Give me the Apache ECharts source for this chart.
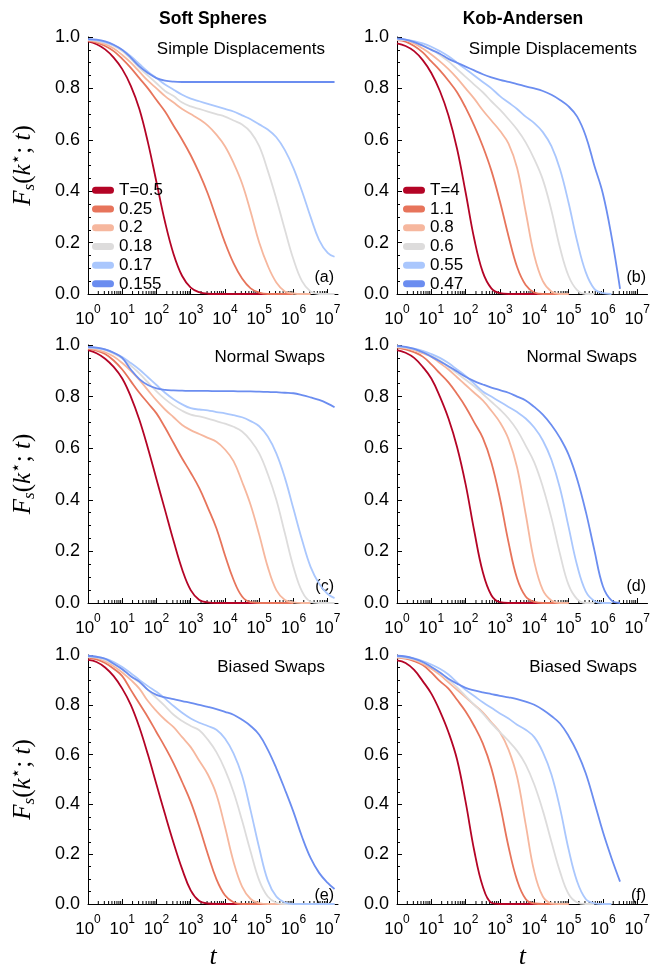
<!DOCTYPE html>
<html>
<head>
<meta charset="utf-8">
<script src="https://cdn.jsdelivr.net/npm/echarts@6/dist/echarts.min.js"></script>
<style>
  html, body { margin: 0; background: #fff; }
  #chart { width: 653px; height: 971px; }
</style>
</head>
<body>
<div id="chart"></div>
<script>
// log10(t) sample points shared by every curve
const LOG_T = [0, 0.25, 0.5, 0.75, 1, 1.25, 1.5, 1.75, 2, 2.25, 2.5, 2.75, 3, 3.25, 3.5, 3.75,
  4, 4.25, 4.5, 4.75, 5, 5.25, 5.5, 5.75, 6, 6.25, 6.5, 6.75, 7, 7.2];

const SS_TEMPS = ["T=0.5", "0.25", "0.2", "0.18", "0.17", "0.155"];
const KA_TEMPS = ["T=4", "1.1", "0.8", "0.6", "0.55", "0.47"];
const COLORS = ["#b40426", "#e7745b", "#f6b79e", "#dddcdc", "#aac7fd", "#6b8df0"];
const X_TICKS = [0, 1, 2, 3, 4, 5, 6, 7];

// F_s(k*, t), one array per temperature (hot -> cold); a curve stops where its array ends
const SS_SIMPLE = [
  [.983, .972, .952, .92, .875, .81, .72, .59, .435, .28, .155, .07, .025, .007, .001, 0, 0, 0, 0, 0, 0, 0, 0],
  [.985, .978, .965, .945, .915, .88, .84, .80, .755, .71, .655, .60, .54, .47, .39, .295, .20, .12, .06, .022, .005, 0, 0, 0, 0],
  [.988, .982, .972, .955, .93, .90, .865, .83, .80, .77, .745, .72, .70, .68, .655, .62, .575, .51, .43, .32, .20, .11, .045, .01, .002, 0, 0],
  [.99, .986, .978, .965, .945, .915, .88, .85, .82, .79, .77, .745, .73, .72, .71, .70, .69, .675, .66, .63, .575, .48, .37, .25, .135, .05, .01, 0, 0, 0],
  [.99, .987, .98, .968, .95, .925, .895, .865, .84, .815, .795, .775, .76, .75, .74, .73, .72, .71, .695, .68, .66, .64, .61, .56, .49, .40, .30, .21, .16, .145],
  [.992, .99, .983, .97, .95, .92, .886, .86, .84, .83, .826, .825, .825, .825, .825, .825, .825, .825, .825, .825, .825, .825, .825, .825, .825, .825, .825, .825, .825, .825]
];
const KA_SIMPLE = [
  [.975, .965, .945, .91, .86, .79, .695, .565, .395, .215, .085, .022, .003, 0, 0, 0, 0, 0, 0, 0, 0],
  [.988, .982, .965, .94, .905, .87, .83, .785, .725, .655, .575, .48, .36, .225, .105, .035, .006, 0, 0, 0, 0],
  [.99, .988, .975, .955, .932, .905, .875, .84, .80, .76, .715, .675, .635, .585, .49, .32, .15, .05, .01, 0, 0],
  [.99, .988, .98, .968, .952, .93, .905, .875, .845, .815, .785, .75, .717, .68, .64, .59, .525, .445, .325, .18, .07, .015, 0, 0],
  [.993, .99, .984, .975, .962, .945, .925, .90, .875, .85, .825, .80, .77, .745, .72, .69, .665, .63, .575, .485, .355, .205, .085, .02, .003, 0],
  [.995, .99, .98, .966, .95, .935, .915, .90, .885, .87, .855, .843, .833, .825, .817, .808, .80, .79, .775, .755, .73, .69, .615, .50, .39, .225, .02]
];
const SS_NORMAL = [
  [.98, .968, .947, .915, .87, .80, .71, .60, .48, .36, .24, .13, .05, .012, .002, 0, 0, 0, 0, 0, 0, 0, 0],
  [.985, .978, .965, .94, .905, .86, .815, .775, .735, .68, .62, .56, .505, .445, .37, .29, .185, .09, .025, .003, 0, 0, 0, 0, 0],
  [.988, .982, .972, .955, .93, .90, .865, .825, .785, .75, .72, .69, .67, .655, .64, .625, .595, .55, .47, .38, .265, .14, .05, .012, .002, 0, 0],
  [.99, .987, .98, .966, .948, .92, .89, .855, .82, .79, .765, .745, .73, .723, .715, .705, .695, .683, .665, .63, .58, .50, .40, .27, .14, .045, .005, 0, 0, 0],
  [.99, .988, .982, .97, .953, .93, .905, .875, .845, .815, .79, .77, .755, .75, .747, .74, .735, .728, .72, .705, .685, .645, .58, .485, .365, .245, .14, .075, .035, .019],
  [.993, .99, .983, .97, .95, .905, .868, .845, .832, .826, .824, .823, .822, .822, .822, .821, .821, .821, .82, .82, .819, .818, .817, .815, .813, .806, .797, .787, .773, .759]
];
const KA_NORMAL = [
  [.98, .97, .95, .915, .87, .80, .715, .605, .46, .28, .12, .03, .003, 0, 0, 0, 0, 0, 0, 0, 0],
  [.99, .983, .972, .955, .925, .89, .855, .81, .76, .70, .64, .545, .405, .235, .095, .025, .004, 0, 0, 0, 0],
  [.992, .988, .98, .968, .955, .93, .905, .875, .845, .815, .785, .745, .70, .635, .525, .345, .16, .05, .01, 0, 0],
  [.993, .99, .983, .972, .958, .94, .915, .89, .865, .84, .81, .78, .75, .715, .67, .61, .545, .45, .33, .19, .07, .015, 0, 0],
  [.995, .992, .986, .977, .965, .95, .93, .905, .88, .85, .82, .80, .78, .76, .74, .715, .68, .63, .555, .445, .295, .145, .045, .008, 0, 0],
  [.997, .993, .985, .972, .955, .937, .918, .897, .877, .86, .847, .835, .825, .815, .80, .785, .76, .73, .69, .64, .575, .48, .355, .206, .065, .01, 0]
];
const SS_BIASED = [
  [.98, .972, .95, .915, .865, .80, .71, .60, .48, .36, .245, .14, .055, .012, .002, 0, 0, 0, 0, 0, 0, 0, 0],
  [.99, .982, .968, .945, .915, .86, .805, .75, .69, .63, .565, .49, .41, .31, .20, .10, .035, .007, 0, 0, 0, 0, 0, 0, 0],
  [.993, .988, .975, .955, .93, .90, .865, .815, .775, .74, .71, .67, .63, .575, .52, .44, .31, .17, .07, .02, .004, 0, 0, 0, 0, 0, 0],
  [.993, .99, .98, .963, .942, .915, .89, .86, .827, .795, .76, .735, .715, .698, .66, .61, .54, .45, .335, .21, .095, .03, .005, 0, 0, 0, 0, 0, 0, 0],
  [.995, .992, .985, .972, .952, .927, .90, .875, .852, .825, .795, .768, .745, .728, .715, .70, .665, .605, .515, .375, .225, .095, .03, .006, 0, 0, 0, 0, 0, 0],
  [.997, .993, .985, .965, .943, .915, .893, .86, .84, .83, .823, .815, .808, .80, .792, .783, .772, .76, .74, .715, .68, .62, .545, .46, .37, .27, .185, .125, .085, .06]
];
const KA_BIASED = [
  [.978, .968, .94, .895, .845, .775, .69, .58, .41, .215, .07, .005, 0, 0, 0, 0, 0, 0, 0, 0, 0],
  [.99, .985, .975, .96, .93, .895, .865, .82, .773, .715, .645, .545, .40, .23, .095, .02, .002, 0, 0, 0, 0],
  [.99, .988, .98, .965, .945, .92, .89, .86, .83, .80, .77, .73, .69, .62, .51, .32, .13, .03, .003, 0, 0],
  [.993, .99, .983, .97, .953, .93, .90, .87, .835, .80, .765, .725, .69, .655, .615, .56, .48, .375, .25, .13, .04, .006, 0, 0],
  [.995, .992, .986, .976, .962, .945, .922, .89, .86, .835, .81, .788, .765, .745, .72, .70, .67, .61, .52, .385, .22, .09, .02, .003, 0, 0],
  [.997, .994, .985, .972, .952, .93, .905, .885, .868, .858, .85, .843, .836, .83, .823, .813, .80, .78, .755, .725, .675, .61, .525, .41, .29, .185, .09]
];

const PANELS = [
  { curves: SS_SIMPLE, names: SS_TEMPS, label: "Simple Displacements", tag: "(a)" },
  { curves: KA_SIMPLE, names: KA_TEMPS, label: "Simple Displacements", tag: "(b)" },
  { curves: SS_NORMAL, names: SS_TEMPS, label: "Normal Swaps", tag: "(c)" },
  { curves: KA_NORMAL, names: KA_TEMPS, label: "Normal Swaps", tag: "(d)" },
  { curves: SS_BIASED, names: SS_TEMPS, label: "Biased Swaps", tag: "(e)" },
  { curves: KA_BIASED, names: KA_TEMPS, label: "Biased Swaps", tag: "(f)" }
];

// layout (pixels)
const COL_LEFT = [88, 397];
const COL_WIDTH = [250, 253];
const ROW_TOP = [37, 345, 655];
const ROW_HEIGHT = [257, 258, 257];
const X_MAX = 2e7;

const SANS = '"Liberation Sans", Arial, sans-serif';
const SERIF = '"Liberation Serif", "DejaVu Serif", serif';

// minor log ticks 2..9 x 10^n
const MINOR_T = [];
for (const d of X_TICKS) for (let m = 2; m <= 9; m++) if (m * 10 ** d < X_MAX) MINOR_T.push(m * 10 ** d);

const chart = echarts.init(document.getElementById("chart"));

const grids = [], xAxes = [], yAxes = [], series = [], graphics = [];

PANELS.forEach((p, i) => {
  const col = i % 2, row = Math.floor(i / 2);
  const left = COL_LEFT[col], top = ROW_TOP[row], width = COL_WIDTH[col], height = ROW_HEIGHT[row];
  grids.push({ left, top, width, height });

  xAxes.push({
    type: "log",
    logBase: 10,
    gridIndex: i,
    min: 1,
    max: X_MAX,
    name: row === 2 ? "t" : "",
    nameLocation: "middle",
    nameGap: 40,
    nameTextStyle: { fontFamily: SERIF, fontStyle: "italic", fontSize: 26, color: "#000" },
    axisLine: { lineStyle: { color: "#000", width: 1 } },
    axisTick: { inside: true, length: 5, lineStyle: { color: "#000" } },
    splitLine: { show: false },
    axisLabel: {
      margin: 10,
      color: "#000",
      formatter: (v) => `{b|10}{s|${Math.round(Math.log10(v))}}`,
      rich: {
        b: { fontFamily: SANS, fontSize: 17, lineHeight: 24, verticalAlign: "bottom", color: "#000" },
        s: { fontFamily: SANS, fontSize: 12, lineHeight: 12, verticalAlign: "top", color: "#000" }
      }
    }
  });

  yAxes.push({
    type: "value",
    gridIndex: i,
    min: 0,
    max: 1,
    interval: 0.2,
    name: col === 0 ? "{i|F}{sub|s}{n|(}{i|k}{sup|⋆}{n|; }{i|t}{n|)}" : "",
    nameLocation: "middle",
    nameRotate: 90,
    nameGap: 50,
    nameTextStyle: {
      color: "#000",
      rich: {
        i: { fontFamily: SERIF, fontStyle: "italic", fontSize: 25, lineHeight: 30, color: "#000" },
        n: { fontFamily: SERIF, fontSize: 25, lineHeight: 30, color: "#000" },
        sub: { fontFamily: SERIF, fontStyle: "italic", fontSize: 17, lineHeight: 17, verticalAlign: "bottom", color: "#000" },
        sup: { fontFamily: '"DejaVu Sans", sans-serif', fontSize: 17, lineHeight: 15, verticalAlign: "top", color: "#000" }
      }
    },
    axisLine: { show: true, lineStyle: { color: "#000", width: 1 } },
    axisTick: { show: true, inside: true, length: 5, lineStyle: { color: "#000" } },
    minorTick: { show: true, splitNumber: 4, length: 3, lineStyle: { color: "#000" } },
    splitLine: { show: false },
    axisLabel: { color: "#000", fontFamily: SANS, fontSize: 18, margin: 8, formatter: (v) => v.toFixed(1) }
  });

  p.curves.forEach((vals, k) => {
    series.push({
      type: "line",
      name: p.names[k],
      xAxisIndex: i,
      yAxisIndex: i,
      color: COLORS[k],
      data: vals.map((v, j) => [10 ** LOG_T[j], v]),
      showSymbol: false,
      smooth: 0.4,
      lineStyle: { width: 1.8, color: COLORS[k] },
      silent: true,
      animation: false
    });
  });

  series.push({
    type: "custom",
    xAxisIndex: i,
    yAxisIndex: i,
    silent: true,
    animation: false,
    data: MINOR_T.map((v) => [v, 0]),
    renderItem: (params, api) => {
      const pt = api.coord([api.value(0), 0]);
      return {
        type: "line",
        shape: { x1: pt[0], y1: pt[1], x2: pt[0], y2: pt[1] - 3 },
        style: { stroke: "#000", lineWidth: 1 }
      };
    }
  });

  graphics.push({
    type: "text",
    x: left + width - 13,
    y: top + 12,
    style: { text: p.label, font: `17px ${SANS}`, fill: "#000", textAlign: "right", textVerticalAlign: "middle" }
  });
  graphics.push({
    type: "text",
    x: left + width - 4,
    y: top + height - 16,
    style: { text: p.tag, font: `16px ${SANS}`, fill: "#000", textAlign: "right", textVerticalAlign: "middle" }
  });
});

graphics.push(
  { type: "text", x: 213, y: 19, style: { text: "Soft Spheres", font: `bold 17.5px ${SANS}`, fill: "#000", textAlign: "center", textVerticalAlign: "middle" } },
  { type: "text", x: 523, y: 19, style: { text: "Kob-Andersen", font: `bold 17.5px ${SANS}`, fill: "#000", textAlign: "center", textVerticalAlign: "middle" } }
);

const PILL = "path://M3.5,0H18.5A3.5,3.5,0,0,1,18.5,7H3.5A3.5,3.5,0,0,1,3.5,0Z";
const legendBase = {
  orient: "vertical",
  icon: PILL,
  itemWidth: 22,
  itemHeight: 7,
  itemGap: 0,
  selectedMode: false,
  textStyle: { fontFamily: SANS, fontSize: 17, lineHeight: 18.7, color: "#000" }
};

chart.setOption({
  animation: false,
  grid: grids,
  xAxis: xAxes,
  yAxis: yAxes,
  legend: [
    Object.assign({ data: SS_TEMPS, left: 87, top: 176 }, legendBase),
    Object.assign({ data: KA_TEMPS, left: 398, top: 176 }, legendBase)
  ],
  graphic: graphics,
  series
});
</script>
</body>
</html>
